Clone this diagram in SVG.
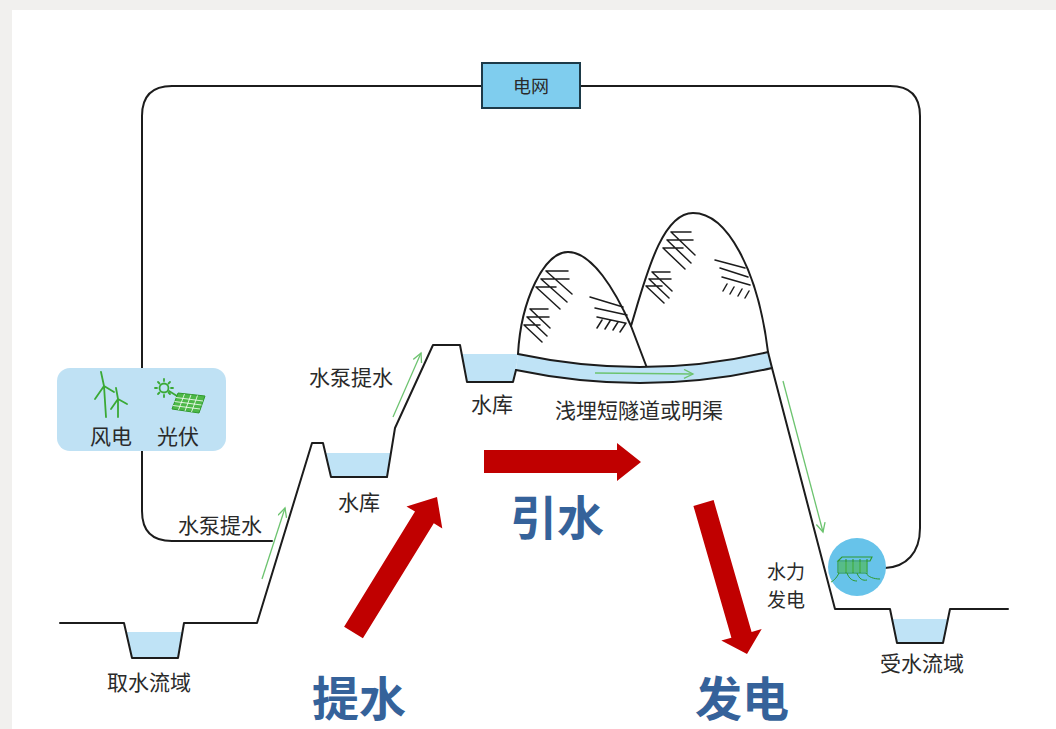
<svg xmlns="http://www.w3.org/2000/svg" width="1056" height="729" viewBox="0 0 1056 729">
  <style>
    .line { fill: none; stroke: #1c1c1c; stroke-width: 2; stroke-linejoin: round; stroke-linecap: round; }
    .hatch { fill: none; stroke: #1c1c1c; stroke-width: 1.5; stroke-linecap: round; }
    .water { fill: #bfe3f6; }
    .flow { fill: none; stroke: #6cc36f; stroke-width: 1.3; }
    .icon { fill: none; stroke: #3aa935; stroke-width: 1.8; stroke-linecap: round; }
    .lbl { font-family: "Noto Sans CJK SC", "Noto Sans", sans-serif; font-size: 21px; fill: #2a2a2a; }
    .big { font-family: "Noto Sans CJK SC", "Noto Sans", sans-serif; font-size: 47px; font-weight: bold; fill: #35629a; }
    .red { fill: #c00000; }
  </style>
  <defs>
    <marker id="flowHead" markerUnits="userSpaceOnUse" markerWidth="12" markerHeight="12" refX="10" refY="5" orient="auto">
      <path d="M1,0.5 L10,5 L1,9.5" fill="none" stroke="#6cc36f" stroke-width="1.3"/>
    </marker>
  </defs>

  <!-- page -->
  <rect width="1056" height="729" fill="#f1f0ee"/>
  <rect x="12" y="10" width="1044" height="719" fill="#ffffff"/>

  <!-- connectors: grid wiring -->
  <g id="connectors">
    <path class="line" d="M482,86 H172 Q142,86 142,116 V368"/>
    <path class="line" d="M142,451 V511 Q142,541 172,541 H272"/>
    <path class="line" d="M580,86 H890 Q920,86 920,116 V528 C920,553 906,567 885,568"/>
  </g>

  <!-- power grid node -->
  <g id="grid">
    <rect x="482" y="63" width="98" height="45" fill="#7fcdee" stroke="#1d3a48" stroke-width="2"/>
    <text x="531" y="93" text-anchor="middle" class="lbl" style="font-size:18px">电网</text>
  </g>

  <!-- wind and solar sources -->
  <g id="renewables">
    <rect x="57" y="368" width="169" height="83" rx="13" fill="#bfe1f4"/>
    <!-- wind turbines -->
    <path class="icon" d="M104,386 L106,417 M104,386 L101,372 M104,386 L95,399 M104,386 L114,392"/>
    <path class="icon" d="M118,399 L118,417 M118,399 L116,388 M118,399 L111,409 M118,399 L127,404"/>
    <!-- sun -->
    <circle cx="164" cy="388" r="4.5" class="icon" stroke-width="1.4"/>
    <path class="icon" stroke-width="1.2" d="M164,379 V381 M164,395 V397 M155,388 H157 M171,388 H173 M158,382 L159.5,383.5 M168.5,392.5 L170,394 M158,394 L159.5,392.5 M168.5,383.5 L170,382"/>
    <!-- panel -->
    <path class="icon" stroke-width="1.6" d="M169,391 L177,396"/>
    <path d="M178,393 L205,396 L199,413 L172,409 Z" fill="#4db848" stroke="#2f9a2c" stroke-width="1"/>
    <path fill="none" stroke="#ffffff" stroke-width="0.8" d="M176,397.5 L203,401 M174.5,401.5 L201.5,405 M173,405.5 L200,409 M184.5,394 L178.5,410 M191,394.8 L185,411 M197.5,395.5 L191.5,412"/>
    <text x="90" y="444" class="lbl">风电</text>
    <text x="157" y="444" class="lbl">光伏</text>
  </g>

  <!-- water bodies -->
  <g id="water">
    <path class="water" d="M126,632 H182.5 L178,658 H132 Z"/>
    <path class="water" d="M325.4,453 H391 L387,477 H331 Z"/>
    <path class="water" d="M462,354 H518 L516,370 L513,382 H467 Z"/>
    <path class="water" d="M892,619 H948 L943,643 H897 Z"/>
  </g>

  <!-- mountains -->
  <g id="mountains">
    <path class="line" fill="#ffffff" d="M518,354 C521,300 544,252 568,252 C592,252 615,290 631,326 L647,368"/>
    <path class="line" d="M631,326 C645,280 661,213 693,213 C727,213 758,270 768,352"/>
    <path class="hatch" d="
      M546,271 h22 M541,279 h28 M536,287 h20 M546,271 l26,23 M541,279 l26,23 M536,287 l24,22
      M530,309 h18 M527,317 h22 M524,325 h16 M530,309 l20,19 M527,317 l20,19 M524,325 l18,17
      M590,297 L623,307 M595,308 L627,315 M597,317 L625,323
      M597,328 L602,320 M605,329 L610,321 M613,330 L618,322 M620,332 L626,323
      M671,232 h20 M667,240 h26 M663,248 h20 M671,232 l24,23 M667,240 l24,23 M663,248 l22,21
      M652,272 h18 M649,279 h22 M646,286 h16 M652,272 l20,19 M649,279 l20,19 M646,286 l18,17
      M715,260 L745,268 M720,268 L748,277 M722,277 L750,285
      M723,291 L727,284 M730,294 L734,287 M738,296 L742,289 M745,298 L749,291"/>
  </g>

  <!-- tunnel -->
  <g id="tunnel">
    <path class="water" d="M518,354 Q645,381 768,352 L772,368 Q645,397 516,370 Z"/>
    <path class="line" d="M518,354 Q645,381 768,352"/>
    <path class="line" d="M516,370 Q645,397 772,368"/>
  </g>

  <!-- terrain profile -->
  <g id="terrain">
    <path class="line" d="M60,623 H124 L132,658 H178 L184,623 H257 L312,443 H323 L331,477 H387 L395,428 L433,345 H460 L467,382 H513 L516,370"/>
    <path class="line" d="M768,352 L772,368 L835,609 H890 L897,643 H943 L950,609 H1008"/>
  </g>

  <!-- hydro turbine -->
  <g id="turbine">
    <circle cx="857" cy="567" r="29" fill="#67c3ea"/>
    <path fill="none" stroke="#2f9a2c" stroke-width="1.1" d="M838,561 L842,557 H872 L870,561 Z M838,561 V573 M846,559 V573 M853,559 V573 M860,559 V573 M867,559 V572 M838,573 H868"/>
    <path fill="#4db848" opacity="0.6" d="M839,562 H867 V572 H839 Z"/>
    <path fill="none" stroke="#2f9a2c" stroke-width="1" d="M839,573 C836,579 833,581 831,582 M847,573 C849,579 853,581 857,581 M857,573 C859,579 863,581 867,580 M866,573 C868,577 874,579 880,579"/>
  </g>

  <!-- flow arrows -->
  <g id="flows">
    <line class="flow" x1="262" y1="579" x2="285" y2="508" marker-end="url(#flowHead)"/>
    <line class="flow" x1="393" y1="417" x2="421" y2="353" marker-end="url(#flowHead)"/>
    <line class="flow" x1="595" y1="373" x2="693" y2="374" marker-end="url(#flowHead)"/>
    <line class="flow" x1="783" y1="381" x2="823" y2="532" marker-end="url(#flowHead)"/>
  </g>

  <!-- process arrows -->
  <g id="process">
    <polygon class="red" points="344.1,626.7 415,511.6 406.5,506.4 437,497 442.3,528.4 433.8,523.2 362.9,638.3"/>
    <polygon class="red" points="484,450 617,450 617,443 641,462 617,481 617,473 484,473"/>
    <polygon class="red" points="693.4,505.9 731.4,637.7 721.3,640.6 747,654 761.7,629 751.6,631.9 713.6,500.1"/>
  </g>

  <!-- labels -->
  <g id="labels">
    <text x="309" y="385" class="lbl">水泵提水</text>
    <text x="178" y="533" class="lbl">水泵提水</text>
    <text x="338" y="510" class="lbl">水库</text>
    <text x="471" y="412" class="lbl">水库</text>
    <text x="555" y="418" class="lbl">浅埋短隧道或明渠</text>
    <text x="767" y="579" class="lbl" style="font-size:19px">水力</text>
    <text x="767" y="607" class="lbl" style="font-size:19px">发电</text>
    <text x="880" y="671" class="lbl">受水流域</text>
    <text x="107" y="690" class="lbl">取水流域</text>
    <text x="510" y="535" class="big">引水</text>
    <text x="312" y="716" class="big">提水</text>
    <text x="695" y="716" class="big">发电</text>
  </g>
</svg>
